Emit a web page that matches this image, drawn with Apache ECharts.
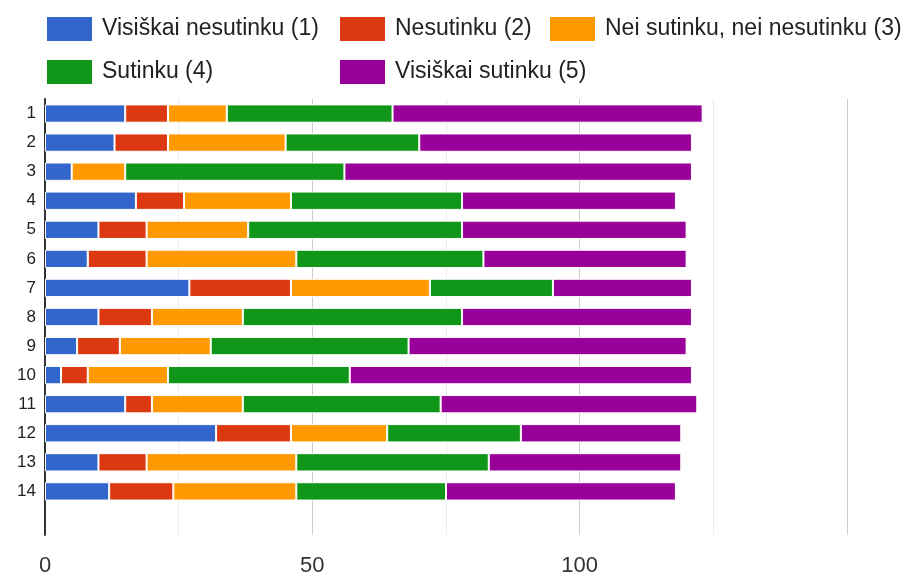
<!DOCTYPE html>
<html>
<head>
<meta charset="utf-8">
<title>Atsakymai</title>
<script src="https://cdn.jsdelivr.net/npm/echarts@6/dist/echarts.min.js"></script>
<style>
    html, body { margin: 0; padding: 0; background: #fff; }
    #chart { width: 913px; height: 577px; }
</style>
</head>
<body>
<div id="chart"></div>
<script>
    // klausimai (eilutės)
    var categories = ['1','2','3','4','5','6','7','8','9','10','11','12','13','14'];

    var names = ['Visiškai nesutinku (1)', 'Nesutinku (2)', 'Nei sutinku, nei nesutinku (3)', 'Sutinku (4)', 'Visiškai sutinku (5)'];
    var colors = ['#3366cc', '#dc3912', '#ff9900', '#109618', '#990099'];

    var visiskaiNesutinku = [15, 13, 5, 17, 10, 8, 27, 10, 6, 3, 15, 32, 10, 12];
    var nesutinku         = [8, 10, 0, 9, 9, 11, 19, 10, 8, 5, 5, 14, 9, 12];
    var neiSutinku        = [11, 22, 10, 20, 19, 28, 26, 17, 17, 15, 17, 18, 28, 23];
    var sutinku           = [31, 25, 41, 32, 40, 35, 23, 41, 37, 34, 37, 25, 36, 28];
    var visiskaiSutinku   = [58, 51, 65, 40, 42, 38, 26, 43, 52, 64, 48, 30, 36, 43];

    var xTicks = [0, 50, 100];

    var seriesData = [visiskaiNesutinku, nesutinku, neiSutinku, sutinku, visiskaiSutinku];

    var font = '"Liberation Sans", Arial, sans-serif';

    // one empty slot at the bottom, like the original layout
    var yCats = categories.concat(['']);

    var series = seriesData.map(function (d, i) {
        return {
            name: names[i],
            type: 'bar',
            stack: 'all',
            barWidth: '63%',
            data: d,
            itemStyle: { color: colors[i], borderColor: '#fff', borderWidth: 1 }
        };
    });

    function legendCol(left, items) {
        return {
            orient: 'vertical',
            left: left,
            top: 10,
            itemWidth: 47,
            itemHeight: 26,
            itemGap: 15,
            icon: 'rect',
            data: items,
            textStyle: { fontFamily: font, fontSize: 23, color: '#222', padding: [0, 0, 0, 4] }
        };
    }

    var myChart = echarts.init(document.getElementById('chart'));
    var option = {
        animation: false,
        color: colors,
        legend: [
            legendCol(40, [names[0], names[3]]),
            legendCol(333, [names[1], names[4]]),
            legendCol(543, [names[2]])
        ],
        grid: { left: 45, right: 66, top: 99, bottom: 41, containLabel: false },
        xAxis: {
            type: 'value',
            min: 0,
            max: 150,
            interval: 25,
            axisLine: { show: false },
            axisTick: { show: false },
            axisLabel: {
                margin: 20,
                fontFamily: font,
                fontSize: 22,
                color: '#333',
                formatter: function (v) { return xTicks.indexOf(v) >= 0 ? String(v) : ''; }
            },
            splitLine: { lineStyle: { color: ['#cccccc', '#ebebeb'], width: 1 } }
        },
        yAxis: {
            type: 'category',
            inverse: true,
            data: yCats,
            axisLine: { lineStyle: { color: '#333', width: 2 } },
            axisTick: { show: false },
            axisLabel: { margin: 9, fontFamily: font, fontSize: 17, color: '#222' }
        },
        series: series
    };
    myChart.setOption(option);
</script>
</body>
</html>
